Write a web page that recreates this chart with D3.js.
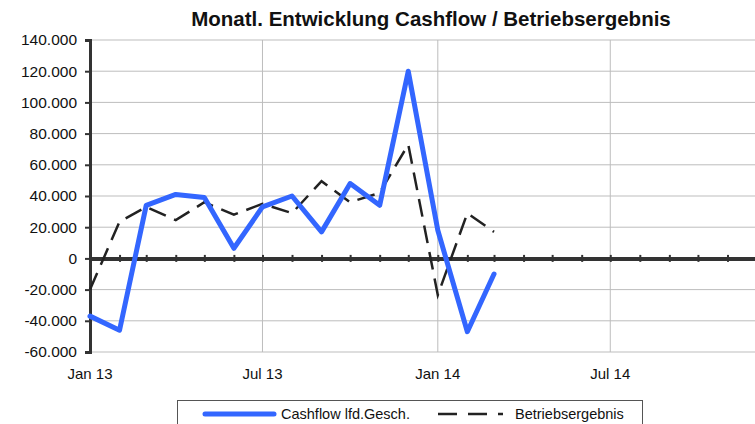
<html>
<head><meta charset="utf-8"></head>
<script src='https://d3js.org/d3.v7.min.js'></script>
<style>
  body { margin: 0; background: white; }
  text { font-family: "Liberation Sans", Arial, sans-serif; fill: #111; }
</style>
<body>
<svg width=755 height=424></svg>
<script>
// monthly values, Jan 13 .. Mar 14
var months = ["2013-01","2013-02","2013-03","2013-04","2013-05","2013-06","2013-07","2013-08",
              "2013-09","2013-10","2013-11","2013-12","2014-01","2014-02","2014-03"];
var cashflow = [-37000,-46000,34000,41000,39000,6500,33000,40000,17000,48000,34000,120000,18000,-47000,-10000];
var betrieb  = [-20000,23500,33000,24500,36000,28000,35000,29000,49500,36000,42000,73000,-23500,29000,17000];
var yTicks = [-60000,-40000,-20000,0,20000,40000,60000,80000,100000,120000,140000];
var seriesNames = ["Cashflow lfd.Gesch.", "Betriebsergebnis"];

var parse = d3.timeParse("%Y-%m");
var de = d3.formatLocale({decimal: ",", thousands: ".", grouping: [3], currency: ["", " €"], minus: "-"});
var svg = d3.select("svg");

var x = d3.scaleTime().domain([new Date(2013,0,1), new Date(2015,0,1)]).range([90, 785.6]);
var y = d3.scaleLinear().domain([-60000,140000]).range([352,40]);

// horizontal grid
svg.append("g").selectAll("line").data(yTicks).enter().append("line")
  .attr("x1", 90).attr("x2", 755)
  .attr("y1", function(d) {return y(d);}).attr("y2", function(d) {return y(d);})
  .attr("stroke", "#bdbdbd").attr("stroke-width", 1);

// vertical grid every 6 months
var halfYears = x.ticks(d3.timeMonth.every(6));
svg.append("g").selectAll("line").data(halfYears.slice(1)).enter().append("line")
  .attr("x1", function(d) {return x(d);}).attr("x2", function(d) {return x(d);})
  .attr("y1", 40).attr("y2", 352)
  .attr("stroke", "#bdbdbd").attr("stroke-width", 1);

// y axis
var yAxis = svg.append("g").attr("transform", "translate(90,0)")
  .call(d3.axisLeft(y).tickValues(yTicks).tickSize(5).tickPadding(8).tickFormat(de.format(",")));
yAxis.select(".domain").attr("stroke", "#333").attr("stroke-width", 3);
yAxis.selectAll(".tick line").attr("stroke", "#333").attr("stroke-width", 2);
yAxis.selectAll("text").style("font-size", "15.5px").attr("fill", "#111");

// zero line with monthly ticks
var zero = svg.append("g").attr("transform", "translate(0," + y(0) + ")")
  .call(d3.axisBottom(x).ticks(d3.timeMonth.every(1)).tickSizeInner(3).tickSizeOuter(0).tickFormat(""));
zero.select(".domain").attr("stroke", "#333").attr("stroke-width", 4);
zero.selectAll(".tick line").attr("stroke", "#333").attr("stroke-width", 2).attr("y1", -3.5).attr("y2", 3.5);

// x labels
svg.append("g").selectAll("text").data(halfYears.filter(function(d) {return x(d) < 755;})).enter().append("text")
  .attr("x", function(d) {return x(d);}).attr("y", 379)
  .attr("text-anchor", "middle").style("font-size", "15px")
  .text(d3.timeFormat("%b %y"));

// lines
var line = function(vals) {
  return d3.line().x(function(d, i) {return x(parse(months[i]));}).y(function(d) {return y(d);})(vals);
};
svg.append("path").attr("d", line(betrieb)).attr("fill", "none")
  .attr("stroke", "#222").attr("stroke-width", 2.5).attr("stroke-dasharray", "18,9");
svg.append("path").attr("d", line(cashflow)).attr("fill", "none")
  .attr("stroke", "#3366ff").attr("stroke-width", 5).attr("stroke-linejoin", "round").attr("stroke-linecap", "round");

// title
svg.append("text").attr("x", 431).attr("y", 26).attr("text-anchor", "middle")
  .style("font-size", "20.5px").style("font-weight", "bold")
  .text("Monatl. Entwicklung Cashflow / Betriebsergebnis");

// legend
var lg = svg.append("g");
lg.append("rect").attr("x", 177.5).attr("y", 400.5).attr("width", 465).attr("height", 40)
  .attr("fill", "white").attr("stroke", "#555");
lg.append("line").attr("x1", 205).attr("x2", 274).attr("y1", 414).attr("y2", 414)
  .attr("stroke", "#3366ff").attr("stroke-width", 5).attr("stroke-linecap", "round");
lg.append("text").attr("x", 281).attr("y", 419).style("font-size", "14.5px").text(seriesNames[0]);
lg.append("line").attr("x1", 438).attr("x2", 503).attr("y1", 414).attr("y2", 414)
  .attr("stroke", "#222").attr("stroke-width", 2.5).attr("stroke-dasharray", "19,11");
lg.append("text").attr("x", 515).attr("y", 419).style("font-size", "14.5px").text(seriesNames[1]);
</script>
</body>
</html>
